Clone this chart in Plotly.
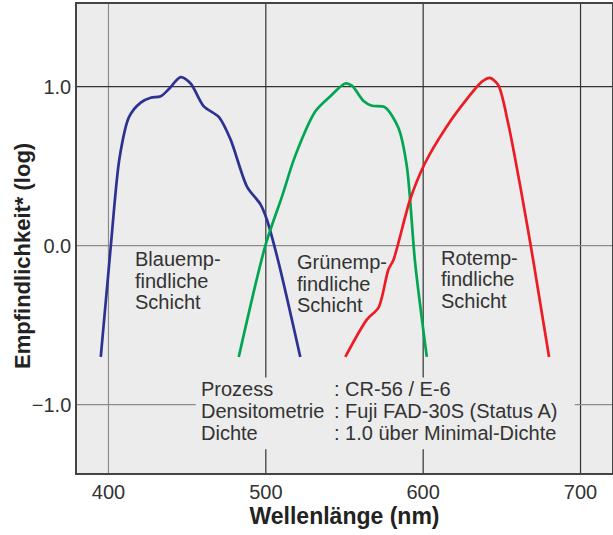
import plotly.graph_objects as go

# Data (wavelength nm, log sensitivity)
blue_x = [395.1, 401.5, 407.0, 413.1, 420.5, 426.8, 433.2, 438.4, 445.8, 452.2, 460.6, 470.1, 477.5, 488.1, 496.6, 500.8, 508.2, 521.9]
blue_y = [-0.70, 0.00, 0.55, 0.81, 0.90, 0.93, 0.94, 0.985, 1.06, 1.02, 0.876, 0.81, 0.67, 0.37, 0.26, 0.16, -0.11, -0.70]

green_x = [482.8, 499.7, 510.3, 518.5, 531.5, 541.0, 550.5, 554.7, 562.1, 567.4, 575.8, 584.3, 589.6, 594.9, 602.3]
green_y = [-0.70, 0.00, 0.31, 0.56, 0.845, 0.94, 1.02, 1.006, 0.91, 0.88, 0.87, 0.74, 0.50, -0.11, -0.70]

red_x = [550.5, 564.2, 571.6, 577.9, 581.1, 591.7, 601.2, 615.0, 627.6, 637.2, 642.4, 647.7, 654.0, 662.5, 669.9, 680.0]
red_y = [-0.70, -0.465, -0.39, -0.15, -0.09, 0.29, 0.52, 0.75, 0.92, 1.03, 1.055, 1.01, 0.77, 0.33, -0.09, -0.70]

x_ticks = [400, 500, 600, 700]
y_ticks = [-1.0, 0.0, 1.0]
y_ticktext = ["\u22121.0", "0.0", "1.0"]

layer_lines = [["Blauemp-", "findliche", "Schicht"],
               ["Grünemp-", "findliche", "Schicht"],
               ["Rotemp-", "findliche", "Schicht"]]
layer_label_x = [415.5, 518.3, 610.3]
layer_label_y0 = [-0.085, -0.105, -0.075]

info_keys = ["Prozess", "Densitometrie", "Dichte"]
info_vals = [": CR-56 / E-6", ": Fuji FAD-30S (Status A)", ": 1.0 über Minimal-Dichte"]
info_y = [-0.899, -1.037, -1.176]

BG = "#ebeceb"
TXT = "#333333"
FONT = "Liberation Sans, Arial, Helvetica, sans-serif"
LINE_STEP = 0.135  # ~21.5 px per text line

fig = go.Figure()

# grid lines (different tones as in reference)
x_grid_col = ["#8c8c8c", "#333333", "#333333", "#333333"]
y_grid_col = ["#8c8c8c", "#8c8c8c", "#333333"]
for v, c in zip(x_ticks, x_grid_col):
    fig.add_shape(type="line", x0=v, x1=v, y0=0, y1=1, xref="x", yref="paper",
                  line=dict(color=c, width=1.2), layer="between")
for v, c in zip(y_ticks, y_grid_col):
    fig.add_shape(type="line", x0=0, x1=1, y0=v, y1=v, xref="paper", yref="y",
                  line=dict(color=c, width=1.2), layer="between")

# info box (covers grid lines)
fig.add_shape(type="rect", x0=455.5, x1=696.3, y0=-1.28, y1=-0.83, xref="x", yref="y",
              fillcolor=BG, line=dict(width=0), layer="between")

for xs, ys, col in [(blue_x, blue_y, "#2e3192"), (green_x, green_y, "#00a651"), (red_x, red_y, "#ed1c24")]:
    fig.add_trace(go.Scatter(x=xs, y=ys, mode="lines",
                             line=dict(color=col, width=2.7, shape="spline", smoothing=0.8),
                             showlegend=False, hoverinfo="skip"))

for lines, lx, ly in zip(layer_lines, layer_label_x, layer_label_y0):
    for i, t in enumerate(lines):
        fig.add_annotation(x=lx, y=ly - i * LINE_STEP, xref="x", yref="y", text=t, showarrow=False,
                           xanchor="left", yanchor="middle", align="left",
                           font=dict(size=20, color=TXT, family=FONT))

for k, v, yy in zip(info_keys, info_vals, info_y):
    fig.add_annotation(x=457.8, y=yy, xref="x", yref="y", text=k, showarrow=False,
                       xanchor="left", yanchor="middle", align="left",
                       font=dict(size=20, color=TXT, family=FONT))
    fig.add_annotation(x=542.0, y=yy, xref="x", yref="y", text=v, showarrow=False,
                       xanchor="left", yanchor="middle", align="left",
                       font=dict(size=20, color=TXT, family=FONT))

# y axis title
fig.add_annotation(x=-0.101, y=0.4627, xref="paper", yref="paper", text="<b>Empfindlichkeit* (log)</b>",
                   showarrow=False, textangle=-90, xanchor="center", yanchor="middle",
                   font=dict(size=22, color="#222222", family=FONT))

fig.update_layout(
    width=613, height=535,
    margin=dict(l=77, r=1, t=4, b=62),
    paper_bgcolor="white", plot_bgcolor=BG,
    font=dict(family=FONT, color=TXT),
    xaxis=dict(range=[380, 720], tickvals=x_ticks, ticktext=[str(v) for v in x_ticks],
               showgrid=False, zeroline=False, automargin=False,
               showline=True, linecolor="#444444", linewidth=1.5, mirror=True, ticks="",
               tickfont=dict(size=20, color=TXT),
               title=dict(text="<b>Wellenlänge (nm)</b>", font=dict(size=23, color="#222222"), standoff=6)),
    yaxis=dict(range=[-1.43, 1.52], tickvals=y_ticks, ticktext=y_ticktext,
               showgrid=False, zeroline=False, automargin=False,
               showline=True, linecolor="#444444", linewidth=1.5, mirror=True, ticks="",
               tickfont=dict(size=20, color=TXT)),
)

fig.write_html("out.html", config={"displayModeBar": False},
               post_script="document.body.style.margin='0';")
